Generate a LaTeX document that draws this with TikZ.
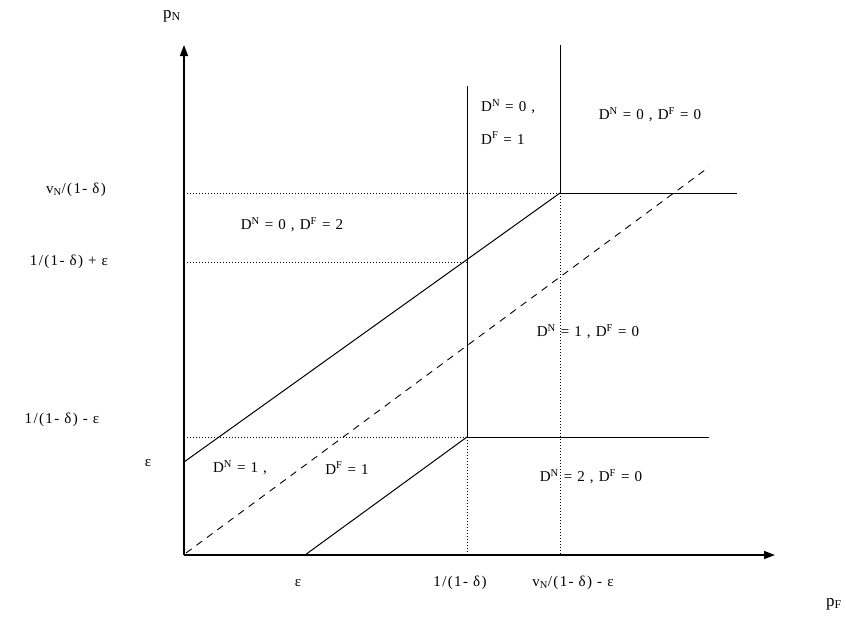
\documentclass[tikz,border=0pt]{standalone}
\usepackage{fontspec}
\setmainfont[LetterSpace=9]{Liberation Serif}
\usetikzlibrary{arrows.meta}
\tikzset{
  axisline/.style={line width=1.4pt,-{Triangle[length=11pt,width=8pt]}},
  bound/.style={line width=1pt},
  guide/.style={line width=0.9pt,dash pattern=on 1.2pt off 1.8pt},
  mid/.style={line width=0.9pt,dash pattern=on 7pt off 6pt},
  lab/.style={font=\fontsize{15}{17}\selectfont,inner sep=0pt},
}
\begin{document}
\begin{tikzpicture}[x=1pt,y=-1pt]
\useasboundingbox (0,0) rectangle (846,629);
% key points
\coordinate (O) at (184,555);
\coordinate (ytip) at (184,45);
\coordinate (xtip) at (775,555);
\coordinate (A) at (467,437);
\coordinate (B) at (560,193);
\coordinate (C) at (467,262);
\coordinate (Atop) at (467,86);
\coordinate (Btop) at (560,45);
\coordinate (Bright) at (737,193);
\coordinate (Aright) at (709,437);
\coordinate (U0) at (184,462);
\coordinate (L0) at (305,555);
\coordinate (D0) at (186,553);
\coordinate (D1) at (709,167);
\coordinate (yB) at (184,193);
\coordinate (yC) at (184,262);
\coordinate (yA) at (184,437);
\coordinate (xA) at (467,555);
\coordinate (xB) at (560,555);
% axes
\draw[axisline] (O) -- (ytip);
\draw[axisline] (O) -- (xtip);
% guides
\draw[guide] (yB) -- (B);
\draw[guide] (yC) -- (C);
\draw[guide] (yA) -- (A);
\draw[guide] (A) -- (xA);
\draw[guide] (B) -- (xB);
% boundaries
\draw[bound] (Atop) -- (A) -- (Aright);
\draw[bound] (Btop) -- (B) -- (Bright);
\draw[bound] (U0) -- (B);
\draw[bound] (L0) -- (A);
\draw[mid] (D0) -- (D1);
% axis labels
\node[lab,font=\fontsize{17}{19}\selectfont] (pN) at (172,16) {p\textsubscript{N}};
\node[lab,font=\fontsize{17}{19}\selectfont] (pF) at (834,604) {p\textsubscript{F}};
% y-axis tick labels
\node[lab] (ly1) at (76,190) {v\textsubscript{N}/(1- δ)};
\node[lab] (ly2) at (69,262) {1/(1- δ) + ε};
\node[lab] (ly3) at (62,420) {1/(1- δ) - ε};
\node[lab] (ly4) at (148,463) {ε};
% x-axis tick labels
\node[lab] (lx1) at (298,583) {ε};
\node[lab] (lx2) at (460,583) {1/(1- δ)};
\node[lab] (lx3) at (573,583) {v\textsubscript{N}/(1- δ) - ε};
% region labels
\node[lab] (r1) at (292,225) {D\textsuperscript{N} = 0 , D\textsuperscript{F} = 2};
\node[lab,anchor=west] (r2a) at (481,107) {D\textsuperscript{N} = 0 ,};
\node[lab,anchor=west] (r2b) at (481,138) {D\textsuperscript{F} = 1};
\node[lab] (r3) at (650,115) {D\textsuperscript{N} = 0 , D\textsuperscript{F} = 0};
\node[lab] (r4) at (588,332) {D\textsuperscript{N} = 1 , D\textsuperscript{F} = 0};
\node[lab] (r5a) at (240,468) {D\textsuperscript{N} = 1 ,};
\node[lab] (r5b) at (347,468) {D\textsuperscript{F} = 1};
\node[lab] (r6) at (591,477) {D\textsuperscript{N} = 2 , D\textsuperscript{F} = 0};
\end{tikzpicture}
\end{document}
